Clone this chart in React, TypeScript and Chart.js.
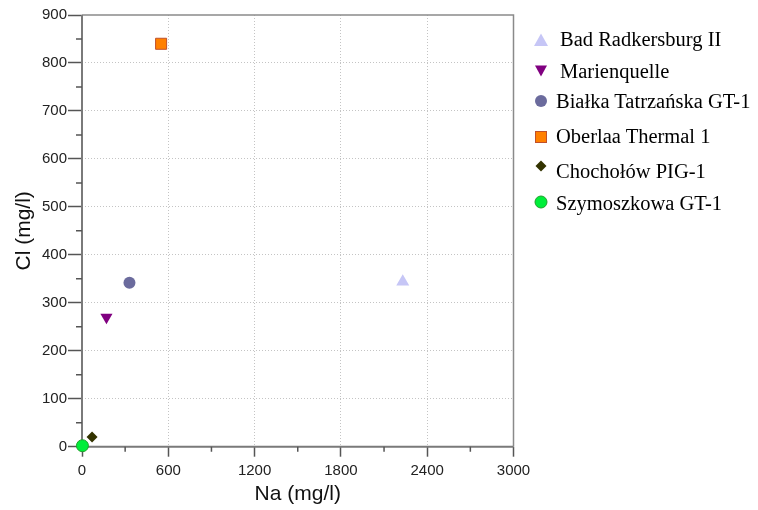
import React, { useEffect, useRef } from "react";
import { Chart, registerables } from "chart.js";

Chart.register(...registerables);

const seriesNames = [
  "Bad Radkersburg II",
  "Marienquelle",
  "Białka Tatrzańska GT-1",
  "Oberlaa Thermal 1",
  "Chochołów PIG-1",
  "Szymoszkowa GT-1",
];
const naValues = [2230, 170, 330, 550, 70, 3];
const clValues = [344, 270, 342, 840, 20, 2];
const xTicks = [0, 600, 1200, 1800, 2400, 3000];
const yTicks = [0, 100, 200, 300, 400, 500, 600, 700, 800, 900];

const fills = ["#c6c6f6", "#800080", "#6b6b9d", "#ff8000", "#333300", "#00ee3a"];
const borders = ["#c6c6f6", "#800080", "#6b6b9d", "#c0502a", "#333300", "#1f9f2a"];
const styles = ["triangle", "triangle", "circle", "rect", "rectRot", "circle"];
const rotations = [0, 180, 0, 0, 0, 0];
const radii = [7.5, 7, 6, 7.8, 5.5, 6];

const legendRows = [40, 71.5, 101.7, 136.5, 171.5, 203.5];
const markerRows = [40, 71, 101, 136.5, 166, 202];

function Marker({ i }: { i: number }) {
  const f = fills[i];
  const b = borders[i];
  let shape: any = null;
  if (i === 0) shape = <polygon points="7,0.5 14,13 0,13" fill={f} />;
  if (i === 1) shape = <polygon points="1,1.5 13,1.5 7,12.5" fill={f} />;
  if (i === 2) shape = <circle cx="7" cy="7" r="6" fill={f} />;
  if (i === 3) shape = <rect x="1.5" y="1.5" width="11" height="11" fill={f} stroke={b} strokeWidth="1" />;
  if (i === 4) shape = <polygon points="7,1.5 12.5,7 7,12.5 1.5,7" fill={f} />;
  if (i === 5) shape = <circle cx="7" cy="7" r="6" fill={f} stroke={b} strokeWidth="1" />;
  return (
    <svg width="14" height="14" style={{ position: "absolute", left: 534, top: markerRows[i] - 7 }}>
      {shape}
    </svg>
  );
}

const axesPlugin = {
  id: "axesPlugin",
  beforeDatasetsDraw(chart: any) {
    const { ctx, chartArea, scales } = chart;
    const { left, right, top, bottom } = chartArea;
    ctx.save();
    ctx.strokeStyle = "#8a8a8a";
    ctx.lineWidth = 1.5;
    ctx.beginPath();
    ctx.moveTo(left, top);
    ctx.lineTo(right, top);
    ctx.lineTo(right, bottom);
    ctx.stroke();
    ctx.strokeStyle = "#7a7a7a";
    ctx.lineWidth = 2;
    ctx.beginPath();
    ctx.moveTo(left, top);
    ctx.lineTo(left, bottom + 1);
    ctx.moveTo(left - 1, bottom);
    ctx.lineTo(right, bottom);
    ctx.stroke();
    ctx.strokeStyle = "#555";
    ctx.lineWidth = 1.5;
    ctx.beginPath();
    for (let v = 50; v < 900; v += 100) {
      const y = scales.y.getPixelForValue(v);
      ctx.moveTo(left - 6, y);
      ctx.lineTo(left, y);
    }
    for (let v = 300; v < 3000; v += 600) {
      const x = scales.x.getPixelForValue(v);
      ctx.moveTo(x, bottom);
      ctx.lineTo(x, bottom + 5);
    }
    ctx.stroke();
    ctx.restore();
  },
};

export default function App() {
  const canvasRef = useRef<HTMLCanvasElement | null>(null);

  useEffect(() => {
    if (!canvasRef.current) return;
    const gridColor = (c: any) => {
      const v = c.tick ? c.tick.value : 0;
      const max = c.scale.max;
      return v === 0 || v === max ? "rgba(0,0,0,0)" : "#c4c4c4";
    };
    const plain = (v: any) => String(v);
    const chart = new Chart(canvasRef.current, {
      type: "scatter",
      data: {
        datasets: seriesNames.map((name, i) => ({
          label: name,
          data: [{ x: naValues[i], y: clValues[i] }],
          backgroundColor: fills[i],
          borderColor: borders[i],
          borderWidth: i === 3 || i === 5 ? 1 : 0,
          pointStyle: styles[i] as any,
          rotation: rotations[i],
          pointRadius: radii[i],
          pointHoverRadius: radii[i],
          clip: false as any,
        })),
      },
      options: {
        animation: false,
        responsive: false,
        maintainAspectRatio: false,
        events: [],
        layout: { padding: { left: 0, top: 15, right: 244.5, bottom: 0 } },
        plugins: { legend: { display: false }, tooltip: { enabled: false } },
        scales: {
          x: {
            type: "linear",
            min: 0,
            max: 3000,
            afterFit: (s: any) => {
              s.height = 63.3;
            },
            afterBuildTicks: (s: any) => {
              s.ticks = xTicks.map((v) => ({ value: v }));
            },
            ticks: {
              color: "#222",
              padding: 5,
              callback: plain,
              font: { family: "'Liberation Sans', Arial, sans-serif", size: 15 },
            },
            grid: {
              color: gridColor,
              lineWidth: 1,
              tickLength: 10,
              tickColor: "#555",
              tickWidth: 1.5,
            },
            border: { display: false, dash: [1, 2] },
            title: {
              display: true,
              text: "Na (mg/l)",
              color: "#111",
              padding: { top: 0, bottom: 3 },
              font: { family: "'Liberation Sans', Arial, sans-serif", size: 21 },
            },
          },
          y: {
            type: "linear",
            min: 0,
            max: 900,
            afterFit: (s: any) => {
              s.width = 82;
            },
            afterBuildTicks: (s: any) => {
              s.ticks = yTicks.map((v) => ({ value: v }));
            },
            ticks: {
              color: "#222",
              padding: 1,
              callback: plain,
              font: { family: "'Liberation Sans', Arial, sans-serif", size: 15 },
            },
            grid: {
              color: gridColor,
              lineWidth: 1,
              tickLength: 14,
              tickColor: "#555",
              tickWidth: 1.5,
            },
            border: { display: false, dash: [1, 2] },
            title: {
              display: true,
              text: "Cl (mg/l)",
              color: "#111",
              padding: { top: 12, bottom: 0 },
              font: { family: "'Liberation Sans', Arial, sans-serif", size: 21 },
            },
          },
        },
      },
      plugins: [axesPlugin],
    });
    return () => chart.destroy();
  }, []);

  return (
    <div style={{ position: "fixed", left: 0, top: 0, width: 758, height: 510, background: "#fff" }}>
      <canvas ref={canvasRef} width={758} height={510} style={{ position: "absolute", left: 0, top: 0 }} />
      {seriesNames.map((name, i) => (
        <React.Fragment key={name}>
          <Marker i={i} />
          <div
            style={{
              position: "absolute",
              left: i < 2 ? 560 : 556,
              top: legendRows[i] - 14,
              height: 26,
              lineHeight: "26px",
              fontFamily: "'Liberation Serif', 'Times New Roman', serif",
              fontSize: 20.5,
              color: "#000",
              whiteSpace: "nowrap",
            }}
          >
            {name}
          </div>
        </React.Fragment>
      ))}
    </div>
  );
}
